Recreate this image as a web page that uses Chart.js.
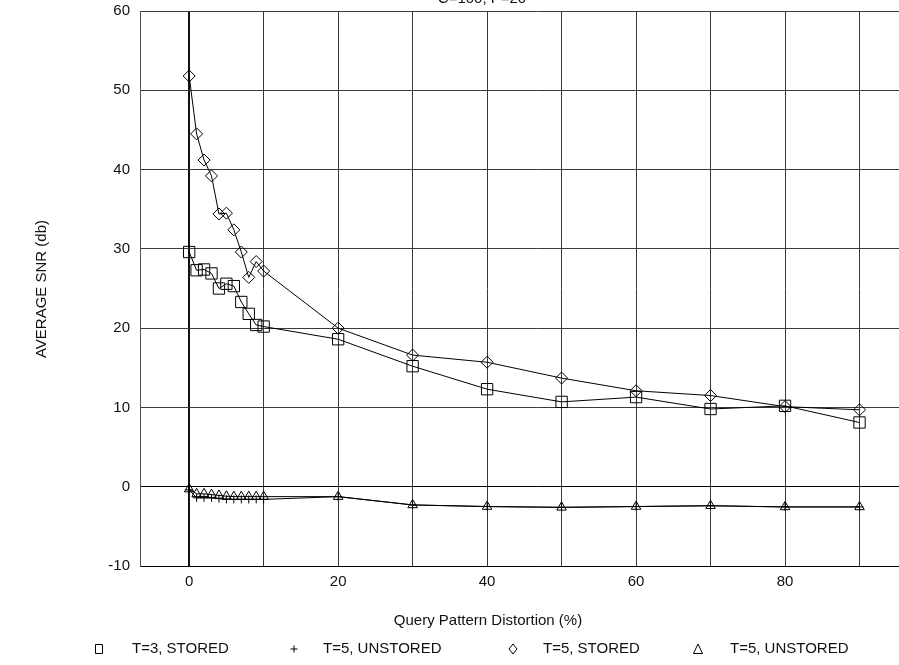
<!DOCTYPE html>
<html>
<head>
<meta charset="utf-8">
<script src="https://cdn.jsdelivr.net/npm/chart.js@4/dist/chart.umd.min.js"></script>
<style>
  html, body { margin: 0; padding: 0; background: #fff; overflow: hidden; }
  #wrap { position: absolute; left: 0; top: 0; width: 960px; height: 665px; }
</style>
</head>
<body>
<div id="wrap"><canvas id="chart" width="960" height="665"></canvas></div>
<script>
// values
const distortion = [0, 1, 2, 3, 4, 5, 6, 7, 8, 9, 10, 20, 30, 40, 50, 60, 70, 80, 90];
const t3Stored   = [29.6, 27.3, 27.4, 26.9, 25.0, 25.6, 25.3, 23.3, 21.8, 20.4, 20.2, 18.6, 15.2, 12.3, 10.7, 11.3, 9.8, 10.2, 8.1];
const t5UnstoredCross = [-0.4, -1.4, -1.4, -1.4, -1.5, -1.6, -1.6, -1.6, -1.6, -1.6, -1.6, -1.25, -2.3, -2.5, -2.6, -2.5, -2.4, -2.55, -2.55];
const t5Stored   = [51.8, 44.5, 41.2, 39.2, 34.4, 34.5, 32.4, 29.6, 26.4, 28.4, 27.2, 20.0, 16.6, 15.7, 13.7, 12.1, 11.5, 10.1, 9.7];
const t5UnstoredTri = [-0.3, -0.9, -0.9, -1.0, -1.1, -1.2, -1.25, -1.25, -1.25, -1.25, -1.25, -1.25, -2.3, -2.5, -2.6, -2.5, -2.4, -2.55, -2.55];

const seriesLabels = ['T=3, STORED', 'T=5, UNSTORED', 'T=5, STORED', 'T=5, UNSTORED'];
const chartTitle = 'C=100, P=20';
const xTitle = 'Query Pattern Distortion (%)';
const yTitle = 'AVERAGE SNR (db)';
const yTicks = [-10, 0, 10, 20, 30, 40, 50, 60];
const xLabelTicks = [0, 20, 40, 60, 80];

const FONT = '"Liberation Sans", Arial, sans-serif';

const toPoints = (ys) => distortion.map((x, i) => ({ x: x, y: ys[i] }));

const makeSet = (label, ys, style, radius) => ({
  label: label,
  data: toPoints(ys),
  showLine: true,
  tension: 0,
  borderColor: '#000',
  borderWidth: 1,
  pointStyle: style,
  pointRadius: radius,
  pointHoverRadius: radius,
  pointBorderColor: '#000',
  pointBorderWidth: 1,
  pointBackgroundColor: 'rgba(0,0,0,0)',
  fill: false
});

// titles and legend drawn at their spots in the picture
const extraText = {
  id: 'extraText',
  afterDraw(chart) {
    const ctx = chart.ctx;
    ctx.save();
    ctx.fillStyle = '#111';
    ctx.font = '15px ' + FONT;
    ctx.textAlign = 'center';
    ctx.textBaseline = 'alphabetic';
    ctx.fillText(chartTitle, 482, 3);

    ctx.textBaseline = 'middle';
    ctx.fillText(xTitle, 488, 621);

    ctx.save();
    ctx.translate(42, 289);
    ctx.rotate(-Math.PI / 2);
    ctx.fillText(yTitle, 0, 0);
    ctx.restore();

    // legend
    const ly = 649;
    const marks = [99, 294, 513, 698];
    const texts = [132, 323, 543, 730];
    ctx.strokeStyle = '#000';
    ctx.lineWidth = 1;
    marks.forEach((mx, i) => {
      ctx.beginPath();
      if (i === 0) {
        ctx.rect(mx - 3.5, ly - 4.5, 7, 9);
      } else if (i === 1) {
        ctx.moveTo(mx - 3.5, ly); ctx.lineTo(mx + 3.5, ly);
        ctx.moveTo(mx, ly - 3.5); ctx.lineTo(mx, ly + 3.5);
      } else if (i === 2) {
        ctx.moveTo(mx, ly - 5); ctx.lineTo(mx + 4, ly);
        ctx.lineTo(mx, ly + 5); ctx.lineTo(mx - 4, ly); ctx.closePath();
      } else {
        ctx.moveTo(mx, ly - 5); ctx.lineTo(mx + 4.5, ly + 4.5);
        ctx.lineTo(mx - 4.5, ly + 4.5); ctx.closePath();
      }
      ctx.stroke();
    });
    ctx.textAlign = 'left';
    texts.forEach((tx, i) => ctx.fillText(seriesLabels[i], tx, ly));
    ctx.restore();
  }
};

new Chart(document.getElementById('chart').getContext('2d'), {
  type: 'scatter',
  data: {
    datasets: [
      makeSet(seriesLabels[0], t3Stored, 'rect', 8),
      makeSet(seriesLabels[1], t5UnstoredCross, 'cross', 4),
      makeSet(seriesLabels[2], t5Stored, 'rectRot', 6),
      makeSet(seriesLabels[3], t5UnstoredTri, 'triangle', 5.5)
    ]
  },
  options: {
    responsive: false,
    devicePixelRatio: 1,
    animation: false,
    layout: { padding: { top: 11, right: 26, left: 0, bottom: 0 } },
    plugins: {
      legend: { display: false },
      title: { display: false },
      tooltip: { enabled: false }
    },
    scales: {
      x: {
        type: 'linear',
        min: -6.6,
        max: 100,
        afterFit(scale) { scale.height = 99; },
        afterBuildTicks(scale) {
          const t = [];
          for (let v = 0; v <= 100; v += 10) t.push({ value: v });
          scale.ticks = t;
        },
        ticks: {
          padding: 7,
          maxRotation: 0,
          autoSkip: false,
          color: '#111',
          font: { family: FONT, size: 15 },
          callback: (v) => (xLabelTicks.includes(v) ? String(v) : '')
        },
        grid: {
          drawTicks: false,
          color: (c) => (c.tick && c.tick.value === 0 ? '#111' : '#3a3a3a'),
          lineWidth: (c) => (c.tick && c.tick.value === 0 ? 2 : 1)
        },
        border: { display: true, color: '#000', width: 1 }
      },
      y: {
        type: 'linear',
        min: -10,
        max: 60,
        afterFit(scale) {
          scale.width = 140;
          scale.paddingTop = 0;
          scale.paddingBottom = 0;
        },
        afterBuildTicks(scale) {
          scale.ticks = yTicks.map((v) => ({ value: v }));
        },
        ticks: {
          padding: 10,
          color: '#111',
          font: { family: FONT, size: 15 }
        },
        grid: {
          drawTicks: false,
          color: (c) => (c.tick && c.tick.value === 0 ? '#000' : '#3a3a3a'),
          lineWidth: 1
        },
        border: { display: true, color: '#555', width: 1 }
      }
    }
  },
  plugins: [extraText]
});
</script>
</body>
</html>
